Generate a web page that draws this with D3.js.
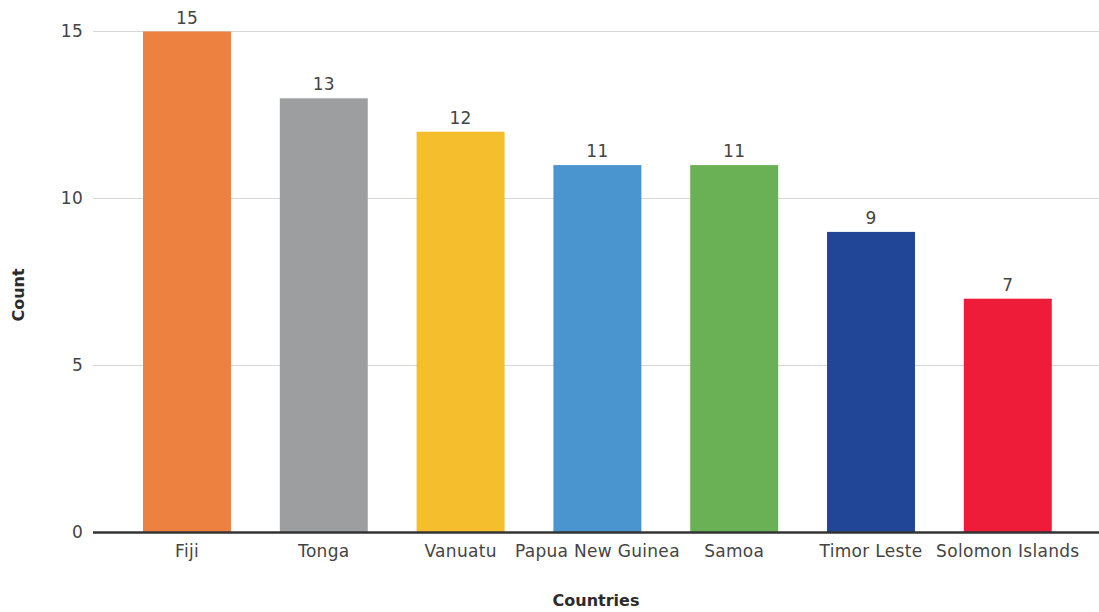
<!DOCTYPE html>
<html>
<head>
<meta charset="utf-8">
<script src="https://cdn.jsdelivr.net/npm/d3@7"></script>
<style>
  html, body { margin: 0; padding: 0; background: #fff; }
  svg { display: block; }
  text { font-family: "DejaVu Sans", "Noto Sans", sans-serif; }
  .lbl { letter-spacing: 0.3px; }
</style>
</head>
<body>
<svg id="chart" width="1099" height="612"></svg>
<script>
// Participants per country
const countries = ["Fiji", "Tonga", "Vanuatu", "Papua New Guinea", "Samoa", "Timor Leste", "Solomon Islands"];
const counts = [15, 13, 12, 11, 11, 9, 7];
const barColors = ["#ED8140", "#9D9EA0", "#F4BE2C", "#4A95CF", "#6AB155", "#214698", "#EE1B39"];
const yTicks = [0, 5, 10, 15];

const plot = { left: 93, right: 1099, top: 31.5, bottom: 532.5 };

const svg = d3.select("#chart");

const x = d3.scaleBand()
  .domain(countries)
  .range([118.6, 1076.2])
  .paddingInner(0.357)
  .paddingOuter(0.1785);

const y = d3.scaleLinear()
  .domain([0, 15])
  .range([plot.bottom, plot.top]);

// Horizontal gridlines
svg.append("g")
  .selectAll("line")
  .data(yTicks.filter(d => d !== 0))
  .join("line")
  .attr("x1", plot.left).attr("x2", plot.right)
  .attr("y1", d => y(d)).attr("y2", d => y(d))
  .attr("stroke", "#d6d6d6")
  .attr("stroke-width", 1);

// Y axis tick labels
const yAxis = d3.axisLeft(y).tickValues(yTicks).tickSize(0).tickPadding(0);
const gy = svg.append("g")
  .attr("transform", `translate(${plot.left - 10},0)`)
  .call(yAxis);
gy.select(".domain").remove();
gy.selectAll("text")
  .attr("class", "lbl")
  .attr("font-size", 17)
  .attr("fill", "#444")
  .attr("font-family", "DejaVu Sans, sans-serif");

// Bars
svg.append("g")
  .selectAll("rect")
  .data(countries)
  .join("rect")
  .attr("x", d => x(d))
  .attr("width", x.bandwidth())
  .attr("y", (d, i) => y(counts[i]))
  .attr("height", (d, i) => y(0) - y(counts[i]))
  .attr("fill", (d, i) => barColors[i]);

// Value labels above bars
svg.append("g")
  .selectAll("text")
  .data(countries)
  .join("text")
  .attr("class", "lbl")
  .attr("x", d => x(d) + x.bandwidth() / 2)
  .attr("y", (d, i) => y(counts[i]) - 8)
  .attr("text-anchor", "middle")
  .attr("font-size", 17)
  .attr("fill", "#444")
  .text((d, i) => counts[i]);

// Baseline
svg.append("line")
  .attr("x1", plot.left).attr("x2", plot.right)
  .attr("y1", y(0)).attr("y2", y(0))
  .attr("stroke", "#333")
  .attr("stroke-width", 2.5);

// X axis category labels
const xAxis = d3.axisBottom(x).tickSize(0).tickPadding(0);
const gx = svg.append("g")
  .attr("transform", `translate(0,${plot.bottom})`)
  .call(xAxis);
gx.select(".domain").remove();
gx.selectAll("text")
  .attr("class", "lbl")
  .attr("dy", null)
  .attr("y", 24)
  .attr("font-size", 17)
  .attr("fill", "#444")
  .attr("font-family", "DejaVu Sans, sans-serif");

// Axis titles
svg.append("text")
  .attr("transform", "translate(24,295) rotate(-90)")
  .attr("text-anchor", "middle")
  .attr("font-size", 16)
  .attr("font-weight", "bold")
  .attr("fill", "#2b2b2b")
  .text("Count");

svg.append("text")
  .attr("x", 596)
  .attr("y", 606)
  .attr("text-anchor", "middle")
  .attr("font-size", 16)
  .attr("font-weight", "bold")
  .attr("fill", "#2b2b2b")
  .text("Countries");
</script>
</body>
</html>
